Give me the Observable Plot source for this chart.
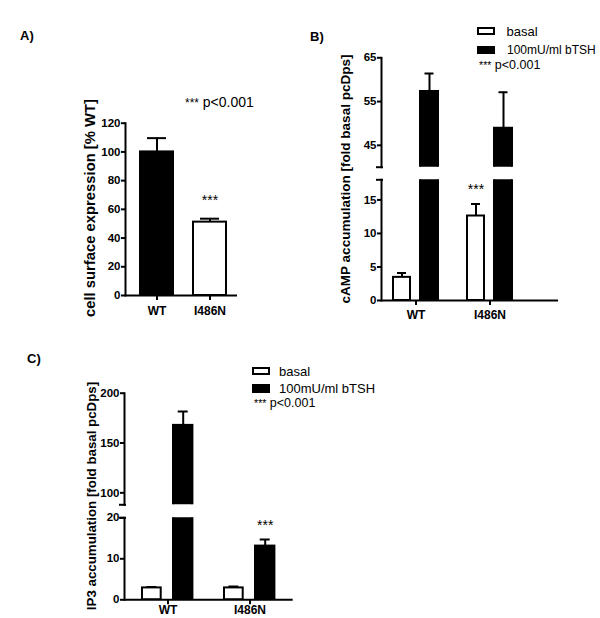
<!DOCTYPE html>
<html><head><meta charset="utf-8">
<script src="https://cdn.jsdelivr.net/npm/d3@7"></script>
<script src="https://cdn.jsdelivr.net/npm/@observablehq/plot@0.6"></script>
<style>
html,body{margin:0;padding:0;background:#fff;}
#root{position:relative;width:600px;height:618px;overflow:hidden;font-family:"Liberation Sans",Arial,sans-serif;color:#000;background:#fff;}
#root svg{position:absolute;left:0;top:0;}
.t{position:absolute;white-space:nowrap;line-height:1;}
.ytitle{font-weight:bold;transform:translate(-50%,-50%) rotate(-90deg);}
.sw{position:absolute;box-sizing:border-box;border:2px solid #000;}
.ast{font-size:0.85em;}
</style></head><body><div id="root"></div>
<script>
// ---------------- data ----------------
const groups = ["WT", "I486N"];

// Panel A: cell surface expression [% WT]
const surfaceMean = [100, 51.1];
const surfaceErr = [9.6, 2.4];
const sigA = ["", "***"];
const yTicksA = [0, 20, 40, 60, 80, 100, 120];

// Panel B: cAMP accumulation [fold basal pcDps]
const campBasal = [3.45, 12.6];
const campBasalErr = [0.65, 1.8];
const campTSH = [57.3, 48.9];
const campTSHErr = [4.1, 8.2];
const sigB = ["", "***"];           // on basal bars
const yTicksBLow = [0, 5, 10, 15];
const yTicksBHigh = [45, 55, 65];
const breakB = [18, 40];            // lower segment top, upper segment bottom
const topB = 65;

// Panel C: IP3 accumulation [fold basal pcDps]
const ip3Basal = [2.9, 2.9];
const ip3BasalErr = [0.2, 0.35];
const ip3TSH = [167.7, 13.1];
const ip3TSHErr = [14, 1.6];
const sigC = ["", "***"];           // on TSH bars
const yTicksCLow = [0, 10, 20];
const yTicksCHigh = [100, 150, 200];
const breakC = [20, 88];
const topC = 200;

const seriesNames = ["basal", "100mU/ml bTSH"];

// ---------------- helpers ----------------
const W = 600, H = 618;
const FONT = '"Liberation Sans", Arial, sans-serif';
const root = document.getElementById("root");

function makePlot({frame, x, y, marks}) {
  const [l, t, r, b] = frame;
  const svg = Plot.plot({
    width: W, height: H,
    marginLeft: l, marginTop: t, marginRight: W - r, marginBottom: H - b,
    style: {background: "none", fontFamily: FONT, overflow: "visible", color: "#000"},
    x: {domain: groups, ...x},
    y: {...y},
    marks
  });
  root.appendChild(svg);
}

const yAxis = (ticks) => Plot.axisY({ticks, tickSize: 4, tickPadding: 1, fontSize: 11.5, fontWeight: "bold", strokeWidth: 2, label: null});
const breakTick = (v) => Plot.axisY({ticks: [v], tickSize: 7, dx: 2, tickFormat: () => "", strokeWidth: 2, label: null});
const xAxis = (pad = 5) => Plot.axisX({tickSize: 5, tickPadding: pad, fontSize: 12, fontWeight: "bold", strokeWidth: 2, label: null});

function groupedMarks(rows, o) {
  return [
    Plot.barY(rows, {x: "group", y: "basal", fill: "#fff", stroke: "#000", strokeWidth: 2, insetLeft: o.basalBar[0], insetRight: o.basalBar[1], clip: true}),
    Plot.barY(rows, {x: "group", y: "tsh", fill: "#000", stroke: "#000", strokeWidth: 2, insetLeft: o.tshBar[0], insetRight: o.tshBar[1], clip: true}),
    Plot.ruleX(rows, {x: "group", y1: "basal", y2: "basalTop", dx: o.basalDx, strokeWidth: 2, clip: true}),
    Plot.tickY(rows, {x: "group", y: "basalTop", insetLeft: o.basalCap[0], insetRight: o.basalCap[1], strokeWidth: 2, clip: true}),
    Plot.ruleX(rows, {x: "group", y1: "tsh", y2: "tshTop", dx: o.tshDx, strokeWidth: 2, clip: true}),
    Plot.tickY(rows, {x: "group", y: "tshTop", insetLeft: o.tshCap[0], insetRight: o.tshCap[1], strokeWidth: 2, clip: true}),
    Plot.text(rows, {x: "group", y: o.sigOn === "basal" ? "basalTop" : "tshTop", text: "sig", dx: o.sigOn === "basal" ? o.basalDx : o.tshDx, dy: o.sigDy, fontSize: 14, clip: true})
  ];
}

// ---------------- Panel A ----------------
const rowsA = groups.map((g, i) => ({group: g, mean: surfaceMean[i], top: surfaceMean[i] + surfaceErr[i], sig: sigA[i]}));
makePlot({
  frame: [125, 122.7, 237, 295],
  x: {paddingInner: 0.34, paddingOuter: 0.2265, align: 0.6},
  y: {domain: [0, 120]},
  marks: [
    Plot.barY(rowsA, {x: "group", y: "mean", fill: d => d.group === "WT" ? "#000" : "#fff", stroke: "#000", strokeWidth: 2, insetLeft: 1, insetRight: 1}),
    Plot.ruleX(rowsA, {x: "group", y1: "mean", y2: "top", strokeWidth: 2}),
    Plot.tickY(rowsA, {x: "group", y: "top", insetLeft: 8, insetRight: 8, strokeWidth: 2}),
    Plot.text(rowsA, {x: "group", y: "top", text: "sig", dy: -18.5, fontSize: 14}),
    Plot.frame({anchor: "left", strokeWidth: 2}),
    Plot.ruleY([0], {strokeWidth: 2}),
    yAxis(yTicksA),
    xAxis(6)
  ]
});

// ---------------- Panel B ----------------
const rowsB = groups.map((g, i) => ({group: g, basal: campBasal[i], basalTop: campBasal[i] + campBasalErr[i], tsh: campTSH[i], tshTop: campTSH[i] + campTSHErr[i], sig: sigB[i]}));
const optB = {basalBar: [1, 29], tshBar: [28, 1], basalDx: -14, tshDx: 13.5, basalCap: [5, 33], tshCap: [32.5, 5.5], sigOn: "basal", sigDy: -14};
const xB = {paddingInner: 0.36, paddingOuter: 0.36, align: 0.2};
makePlot({
  frame: [381, 57.3, 558, 166.7],
  x: {...xB, axis: null},
  y: {domain: [breakB[1], topB]},
  marks: [
    ...groupedMarks(rowsB, optB),
    Plot.frame({anchor: "left", strokeWidth: 2}),
    yAxis(yTicksBHigh),
    breakTick(breakB[1])
  ]
});
makePlot({
  frame: [381, 179.3, 558, 300],
  x: xB,
  y: {domain: [0, breakB[0]]},
  marks: [
    ...groupedMarks(rowsB, optB),
    Plot.frame({anchor: "left", strokeWidth: 2}),
    Plot.ruleY([0], {strokeWidth: 2}),
    yAxis(yTicksBLow),
    breakTick(breakB[0]),
    xAxis(5)
  ]
});

// ---------------- Panel C ----------------
const rowsC = groups.map((g, i) => ({group: g, basal: ip3Basal[i], basalTop: ip3Basal[i] + ip3BasalErr[i], tsh: ip3TSH[i], tshTop: ip3TSH[i] + ip3TSHErr[i], sig: sigC[i]}));
const optC = {basalBar: [1, 33.3], tshBar: [32, 1.6], basalDx: -16.15, tshDx: 15.2, basalCap: [5.4, 37.7], tshCap: [36.7, 6.3], sigOn: "tsh", sigDy: -14.5};
const xC = {paddingInner: 0.3494, paddingOuter: 0.191, align: 0.5};
makePlot({
  frame: [124, 392.7, 292.7, 504.3],
  x: {...xC, axis: null},
  y: {domain: [breakC[1], topC]},
  marks: [
    ...groupedMarks(rowsC, optC),
    Plot.frame({anchor: "left", strokeWidth: 2}),
    yAxis(yTicksCHigh),
    breakTick(breakC[1])
  ]
});
makePlot({
  frame: [124, 517.3, 292.7, 599.3],
  x: xC,
  y: {domain: [0, breakC[0]]},
  marks: [
    ...groupedMarks(rowsC, optC),
    Plot.frame({anchor: "left", strokeWidth: 2}),
    Plot.ruleY([0], {strokeWidth: 2}),
    yAxis(yTicksCLow),
    breakTick(breakC[0]),
    xAxis(1)
  ]
});

// ---------------- HTML text: titles, legends, labels ----------------
function addText(html, left, cy, size, extra = "") {
  const d = document.createElement("div");
  d.className = "t";
  d.style.cssText = `left:${left}px;top:${cy - size / 2}px;font-size:${size}px;${extra}`;
  d.innerHTML = html;
  root.appendChild(d);
  return d;
}
function addYTitle(text, cx, cy, size) {
  const d = document.createElement("div");
  d.className = "t ytitle";
  d.style.cssText = `left:${cx}px;top:${cy}px;font-size:${size}px;`;
  d.textContent = text;
  root.appendChild(d);
}
function addSwatch(left, top, w, h, fill) {
  const d = document.createElement("div");
  d.className = "sw";
  d.style.cssText = `left:${left}px;top:${top}px;width:${w}px;height:${h}px;background:${fill};`;
  root.appendChild(d);
}

// panel labels
addText("A)", 20, 35, 13, "font-weight:bold;");
addText("B)", 310, 36, 13, "font-weight:bold;");
addText("C)", 27, 358, 13, "font-weight:bold;");

// y titles
addYTitle("cell surface expression [% WT]", 90, 208, 14.8);
addYTitle("cAMP accumulation [fold basal pcDps]", 346, 179, 13.5);
addYTitle("IP3 accumulation [fold basal pcDps]", 92, 496, 13.3);

// p-value notes
addText('<span class="ast">***</span> p&lt;0.001', 185, 102, 14);
addText('<span class="ast">***</span> p&lt;0.001', 479, 65, 12.5);
addText('<span class="ast">***</span> p&lt;0.001', 254, 403, 12.5);

// legend B
addSwatch(477, 27, 18, 8, "#fff");
addSwatch(477, 46, 18, 8, "#000");
addText(seriesNames[0], 506.5, 31, 13);
addText(seriesNames[1], 507, 50, 12);

// legend C
addSwatch(252, 366.5, 18, 8.5, "#fff");
addSwatch(252, 384, 18, 9.3, "#000");
addText(seriesNames[0], 279, 371, 13);
addText(seriesNames[1], 279, 388.5, 13);
</script></body></html>
